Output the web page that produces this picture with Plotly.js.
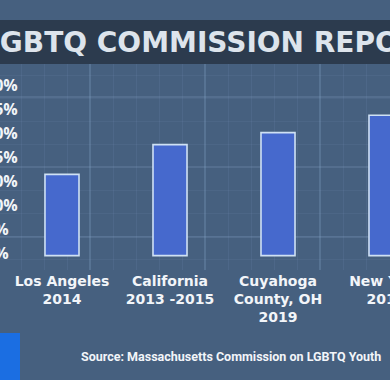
<!DOCTYPE html>
<html><head><meta charset="utf-8">
<script src="https://cdn.plot.ly/plotly-3.0.1.min.js"></script>
<style>html,body{margin:0;padding:0;background:#46607f;}#chart{width:390px;height:380px;}</style>
</head><body><div id="chart"></div>
<script>
const categories = ["Los Angeles<br>2014", "California<br>2013 -2015", "Cuyahoga<br>County, OH<br>2019", "New York<br>2019"];
const values = [16.9, 23.1, 25.6, 29.2];
const tickVals = [0, 5, 10, 15, 20, 25, 30, 35];
const tickText = ["0%", "5%", "10%", "20%", "25%", "30%", "35%", "40%"];
const titleText = "LGBTQ COMMISSION REPORT";
const sourceText = "Source: Massachusetts Commission on LGBTQ Youth";

// pixel helper for decorative placement (plot area: top 61, bottom 270)
const PT = 61, PB = 270;
const py = p => (PB - p) / (PB - PT);

const bar = {
  type: "bar", x: categories, y: values, width: 0.315,
  marker: {color: "#4669cd", line: {color: "#cfe1f4", width: 1.6}},
  hoverinfo: "skip"
};
const layout = {
  width: 390, height: 380,
  margin: {l: 0, r: 0, t: PT, b: 380 - PB, pad: 0},
  paper_bgcolor: "#46607f", plot_bgcolor: "rgba(0,0,0,0)",
  showlegend: false,
  font: {family: "Open Sans", color: "#eef3f8"},
  xaxis: {
    type: "category", range: [-0.574, 3.037], showgrid: false, zeroline: false,
    showline: false, ticks: "", ticklabelstandoff: 1,
    tickfont: {family: "DejaVu Sans", size: 14, weight: 700, color: "#f2f5f9"}
  },
  yaxis: {
    range: [-3, 40.5], tickvals: tickVals, ticktext: tickText, showgrid: false,
    zeroline: false, showline: false, ticks: "",
    ticklabelposition: "inside", ticklabelstandoff: -18, ticklabelshift: -2,
    tickfont: {family: "Open Sans", size: 16, weight: 700, color: "#f2f5f9"}
  },
  xaxis2: {overlaying: "x", range: [0, 390], showticklabels: false, ticks: "",
    showgrid: true, gridcolor: "rgba(140,170,205,0.26)", gridwidth: 1.5, tick0: 90, dtick: 115,
    minor: {showgrid: true, dtick: 23, tick0: 90, gridcolor: "rgba(120,150,185,0.15)", gridwidth: 1},
    zeroline: false},
  yaxis2: {overlaying: "y", range: [0, 209], showticklabels: false, ticks: "",
    showgrid: true, gridcolor: "rgba(140,170,205,0.2)", gridwidth: 1.2, tick0: 103, dtick: 70,
    minor: {showgrid: true, dtick: 23, tick0: 103, gridcolor: "rgba(120,150,185,0.13)", gridwidth: 1},
    zeroline: false},
  shapes: [
    {type: "rect", xref: "paper", yref: "paper", x0: 0, x1: 1, y0: py(64), y1: py(20),
     fillcolor: "#2c3b4e", line: {width: 0}, layer: "above"},
    {type: "rect", xref: "paper", yref: "paper", x0: 0, x1: 20/390, y0: py(380), y1: py(333),
     fillcolor: "#1b6ee2", line: {width: 0}}
  ],
  annotations: [
    {text: titleText, xref: "paper", yref: "paper", x: 0, y: py(42), xanchor: "left", yanchor: "middle",
     xshift: -20, showarrow: false, font: {family: "DejaVu Sans", size: 28, weight: 700, color: "#dde4ec"}},
    {text: sourceText, xref: "paper", yref: "paper", x: 231/390, y: py(356), xanchor: "center", yanchor: "middle",
     showarrow: false, font: {family: "Roboto", size: 12.5, weight: 700, color: "#f2f5f9"}}
  ]
};
const gridTrace = {type: "scatter", x: [], y: [], xaxis: "x2", yaxis: "y2", hoverinfo: "skip"};
Plotly.newPlot("chart", [gridTrace, bar], layout, {staticPlot: true, displayModeBar: false});
</script></body></html>
